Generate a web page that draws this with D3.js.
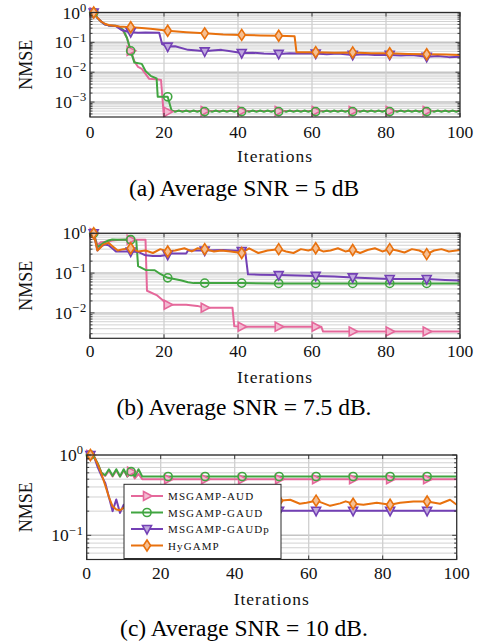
<!DOCTYPE html>
<html>
<head>
<meta charset="utf-8">
<script src="https://cdn.jsdelivr.net/npm/d3@7"></script>
<style>
    html, body { margin: 0; padding: 0; background: #fff; }
    svg { display: block; }
    svg text { font-family: "Liberation Serif", "Times New Roman", Times, "DejaVu Serif", serif; }
</style>
</head>
<body>
<div id="plot"></div>
<script>
// ---- data: [iteration, NMSE] ----
const seriesNames = ['MSGAMP-AUD', 'MSGAMP-GAUD', 'MSGAMP-GAUDp', 'HyGAMP'];
const iterTicks = [0, 20, 40, 60, 80, 100];
const marksAB = [1, 11, 21, 31, 41, 51, 61, 71, 81, 91];
const marksC = [1, 12, 22, 32, 42, 52, 62, 72, 82, 92];
const captions = ['(a) Average SNR = 5 dB', '(b) Average SNR = 7.5 dB.', '(c) Average SNR = 10 dB.'];
const yRanges = [[3.16e-4, 1], [2.3e-3, 1], [0.05, 1]];

// (a) 5 dB
const aAUD = [[1, 1], [2, 0.66], [3, 0.5], [4, 0.4], [5, 0.37], [7, 0.36], [8.5, 0.3], [10, 0.14], [11, 0.052],
    [12, 0.023], [13, 0.015], [14, 0.013], [16, 0.006], [18.5, 0.0057], [19.2, 0.0055], [20, 0.0003], [21, 0.00047],
    [22, 0.0005], [31, 0.0005], [41, 0.0005], [51, 0.0005], [61, 0.0005], [71, 0.0005], [81, 0.0005], [91, 0.0005],
    [100, 0.0005]];
const aGAUDhead = [[1, 1], [2, 0.66], [3, 0.5], [4, 0.4], [5, 0.37], [7, 0.36], [9, 0.26], [10, 0.14], [11, 0.052],
    [12, 0.021], [14, 0.019], [15, 0.011], [16.5, 0.0074], [18, 0.0062], [18.3, 0.0015], [21, 0.0015]];
// iterations 22 .. 100
const aGAUDtail = [
    5.4e-4, 4.7e-4, 5.2e-4, 4.7e-4, 5.2e-4, 4.7e-4, 5.2e-4, 4.7e-4, 5.2e-4, 4.8e-4,
    5.2e-4, 4.7e-4, 5.2e-4, 4.7e-4, 5.2e-4, 4.7e-4, 5.2e-4, 4.7e-4, 5.2e-4, 4.8e-4,
    5.2e-4, 4.7e-4, 5.2e-4, 4.7e-4, 5.2e-4, 4.7e-4, 5.2e-4, 4.7e-4, 5.2e-4, 4.8e-4,
    5.2e-4, 4.7e-4, 5.2e-4, 4.7e-4, 5.2e-4, 4.7e-4, 5.2e-4, 4.7e-4, 5.2e-4, 4.8e-4,
    5.2e-4, 4.7e-4, 5.2e-4, 4.7e-4, 5.2e-4, 4.7e-4, 5.2e-4, 4.7e-4, 5.2e-4, 4.8e-4,
    5.2e-4, 4.7e-4, 5.2e-4, 4.7e-4, 5.2e-4, 4.7e-4, 5.2e-4, 4.7e-4, 5.2e-4, 4.8e-4,
    5.2e-4, 4.7e-4, 5.2e-4, 4.7e-4, 5.2e-4, 4.7e-4, 5.2e-4, 4.7e-4, 5.2e-4, 4.8e-4,
    5.2e-4, 4.7e-4, 5.2e-4, 4.7e-4, 5.2e-4, 4.7e-4, 5.2e-4, 4.7e-4, 5.2e-4];
const aGAUDp = [[1, 1], [2, 0.66], [3, 0.5], [4, 0.4], [5, 0.37], [7, 0.35], [8.5, 0.26], [10, 0.23], [11, 0.22],
    [13, 0.21], [15, 0.215], [18.7, 0.21], [19.5, 0.087], [21, 0.072], [23, 0.074], [26.5, 0.056], [29, 0.053],
    [31, 0.05], [33, 0.053], [35.5, 0.056], [38, 0.05], [41, 0.044], [44, 0.045], [47, 0.042], [51, 0.041],
    [54, 0.043], [57, 0.042], [61, 0.042], [64, 0.04], [67, 0.042], [71, 0.038], [74, 0.04], [77, 0.038],
    [81, 0.038], [84, 0.036], [87, 0.038], [91, 0.033], [94, 0.035], [97, 0.032], [100, 0.033]];
const aHy = [[1, 1], [2, 0.66], [3, 0.5], [4, 0.42], [5, 0.38], [8, 0.34], [11, 0.32], [14, 0.3], [17, 0.28],
    [21, 0.245], [26, 0.22], [31, 0.2], [36, 0.185], [41, 0.178], [46, 0.17], [51, 0.166], [55.3, 0.16],
    [55.8, 0.047], [61, 0.047], [66, 0.045], [71, 0.046], [76, 0.043], [81, 0.043], [86, 0.041], [91, 0.04],
    [96, 0.039], [100, 0.038]];

// (b) 7.5 dB
const bAUD = [[1, 1], [2, 0.5], [3, 0.6], [5, 0.62], [6, 0.66], [8, 0.69], [11, 0.69], [13, 0.69], [15, 0.69],
    [15.4, 0.036], [18, 0.028], [19.6, 0.021], [21, 0.016], [26, 0.016], [29, 0.015], [31, 0.0135], [35, 0.0135],
    [38.5, 0.0135], [39, 0.0046], [41, 0.0045], [51, 0.0045], [61, 0.0045], [62.5, 0.0045], [63, 0.0034],
    [71, 0.0034], [81, 0.0034], [91, 0.0034], [100, 0.0034]];
const bGAUD = [[1, 1], [2, 0.45], [3, 0.52], [4, 0.6], [5, 0.66], [6, 0.7], [8, 0.69], [10, 0.7], [11, 0.69],
    [12.5, 0.67], [13, 0.15], [15, 0.12], [17.5, 0.118], [19, 0.095], [21, 0.076], [24.5, 0.066], [26.5, 0.059],
    [28, 0.056], [31, 0.056], [41, 0.056], [51, 0.055], [61, 0.055], [71, 0.055], [81, 0.055], [91, 0.055],
    [100, 0.055]];
const bGAUDp = [[1, 1], [2, 0.37], [3, 0.47], [4, 0.52], [5, 0.5], [6, 0.42], [7, 0.35], [9, 0.35], [11, 0.35],
    [13, 0.34], [15, 0.28], [17, 0.27], [19, 0.27], [21, 0.29], [22, 0.31], [26, 0.31], [26.5, 0.37], [31, 0.37],
    [36, 0.38], [41, 0.36], [42, 0.32], [42.7, 0.093], [46, 0.091], [51, 0.089], [56, 0.087], [61, 0.085],
    [66, 0.082], [71, 0.078], [76, 0.074], [81, 0.071], [86, 0.071], [91, 0.071], [96, 0.067], [100, 0.065]];
const bHy = [[1, 1], [2, 0.37], [3, 0.45], [3.5, 0.52], [5, 0.575], [6, 0.48], [7.5, 0.37], [9, 0.4], [11, 0.42],
    [13, 0.35], [15, 0.37], [17, 0.32], [19, 0.4], [21, 0.35], [23, 0.37], [25.5, 0.42], [27.5, 0.35], [29, 0.42],
    [31, 0.4], [33.5, 0.35], [35.5, 0.37], [38, 0.35], [41, 0.32], [43, 0.42], [45.5, 0.32], [48, 0.37], [51, 0.4],
    [53, 0.35], [55, 0.32], [57, 0.4], [59, 0.37], [61, 0.42], [63, 0.35], [65, 0.37], [67, 0.42], [69, 0.35],
    [71, 0.38], [73, 0.32], [75, 0.38], [77, 0.42], [79, 0.35], [81, 0.4], [83, 0.37], [85, 0.33], [87, 0.4],
    [89, 0.37], [91, 0.3], [93, 0.37], [95, 0.4], [97, 0.35], [100, 0.38]];

// (c) 10 dB
const cAUD = [[1, 1], [2, 0.95], [3, 0.78], [4, 0.6], [5, 0.55], [6, 0.64], [7, 0.54], [8, 0.64], [9, 0.54],
    [10, 0.64], [11, 0.54], [12, 0.62], [13, 0.51], [14, 0.58], [15, 0.5], [22, 0.5], [32, 0.5], [42, 0.5],
    [52, 0.5], [62, 0.5], [72, 0.5], [82, 0.5], [92, 0.5], [100, 0.5]];
const cGAUD = [[1, 1], [2, 0.95], [3, 0.78], [4, 0.6], [5, 0.56], [6, 0.665], [7, 0.55], [8, 0.665], [9, 0.54],
    [10, 0.665], [11, 0.54], [12, 0.62], [13, 0.54], [14, 0.665], [15, 0.54], [16, 0.54], [22, 0.54], [32, 0.54],
    [42, 0.54], [52, 0.54], [62, 0.54], [72, 0.54], [82, 0.54], [92, 0.54], [100, 0.54]];
const cGAUDp = [[1, 1], [2, 0.95], [3, 0.7], [4, 0.55], [5, 0.45], [6, 0.3], [7, 0.2], [8, 0.28], [9, 0.19],
    [10, 0.24], [11, 0.21], [12, 0.215], [14, 0.205], [22, 0.202], [32, 0.202], [42, 0.202], [52, 0.202],
    [62, 0.202], [72, 0.202], [82, 0.202], [92, 0.202], [100, 0.202]];
const cHy = [[1, 1], [2, 0.95], [3, 0.76], [4, 0.58], [5, 0.42], [6, 0.3], [7, 0.23], [8, 0.21], [9, 0.205],
    [10, 0.22], [11, 0.235], [12, 0.25], [14, 0.27], [16, 0.26], [18, 0.27], [20, 0.26], [22, 0.265], [24, 0.255],
    [26, 0.27], [28, 0.26], [30, 0.265], [32, 0.26], [34, 0.27], [36, 0.255], [38, 0.265], [40, 0.26], [42, 0.27],
    [44, 0.255], [46, 0.265], [48, 0.26], [50, 0.27], [52, 0.27], [55, 0.277], [57.6, 0.247], [59.4, 0.255],
    [62, 0.27], [63.5, 0.255], [65.8, 0.233], [68.5, 0.25], [70, 0.265], [72, 0.247], [74.8, 0.24], [78.4, 0.255],
    [82, 0.24], [84.7, 0.255], [88.3, 0.264], [92, 0.264], [95.5, 0.247], [98.2, 0.277], [100, 0.24]];

// ---- styles / layout ----
const seriesColors = ['#e5689b', '#41a541', '#7340b5', '#e8710e'];
const seriesMarks = ['triangleRight', 'circle', 'triangleDown', 'diamond'];

const W = 479, H = 643;
const layout = [
    {left: 90, right: 460, top: 12.5, bottom: 117, tickY: 137.5, titleY: 161.7, capY: 195.5},
    {left: 90, right: 460, top: 233.3, bottom: 338.3, tickY: 357, titleY: 383, capY: 415},
    {left: 86.7, right: 456.7, top: 455, bottom: 559.5, tickY: 579, titleY: 605, capY: 636}
];

const svg = d3.select('#plot')
    .append('svg')
    .attr('width', W)
    .attr('height', H);

function markPath(type) {
    switch (type) {
        case 'triangleRight': return 'M-3.5,-4.5L5,0L-3.5,4.5Z';
        case 'triangleDown': return 'M-4.5,-3.5L4.5,-3.5L0,5Z';
        case 'diamond': return 'M0,-5.5L3.6,0L0,5.5L-3.6,0Z';
        default: return d3.symbol(d3.symbolCircle, 52)();
    }
}

function drawMark(g, type, color, cx, cy) {
    g.append('path')
        .attr('d', markPath(type))
        .attr('transform', `translate(${cx},${cy})`)
        .attr('fill', type === 'circle' ? 'none' : d3.interpolateRgb(color, '#fff')(0.55))
        .attr('stroke', color)
        .attr('stroke-width', 1.6);
}

function drawPanel(idx, series, marks, legend) {
    const L = layout[idx];
    const x = d3.scaleLinear().domain([0, 100]).range([L.left, L.right]);
    const y = d3.scaleLog().domain(yRanges[idx]).range([L.bottom, L.top]);
    const g = svg.append('g');

    const yTicks = y.ticks();
    const isMajor = v => Math.abs(Math.log10(v) - Math.round(Math.log10(v))) < 1e-9;
    const major = yTicks.filter(isMajor);
    const minor = yTicks.filter(v => !isMajor(v));

    // grid
    g.append('g').selectAll('line').data(minor).join('line')
        .attr('x1', L.left).attr('x2', L.right)
        .attr('y1', d => y(d)).attr('y2', d => y(d))
        .attr('stroke', '#d2d2d2').attr('stroke-width', 1);
    g.append('g').selectAll('line').data(major).join('line')
        .attr('x1', L.left).attr('x2', L.right)
        .attr('y1', d => y(d)).attr('y2', d => y(d))
        .attr('stroke', '#c4c4c4').attr('stroke-width', 1.5);
    g.append('g').selectAll('line').data(iterTicks).join('line')
        .attr('x1', d => x(d)).attr('x2', d => x(d))
        .attr('y1', L.top).attr('y2', L.bottom)
        .attr('stroke', '#cfcfcf').attr('stroke-width', 1.3);

    // curves
    const clipId = 'clip' + idx;
    svg.append('clipPath').attr('id', clipId)
        .append('rect')
        .attr('x', L.left).attr('y', L.top)
        .attr('width', L.right - L.left).attr('height', L.bottom - L.top);

    const line = d3.line().x(d => x(d[0])).y(d => y(d[1]));
    series.forEach((s, i) => {
        g.append('path')
            .attr('d', line(s))
            .attr('clip-path', `url(#${clipId})`)
            .attr('fill', 'none')
            .attr('stroke', seriesColors[i])
            .attr('stroke-width', 2)
            .attr('stroke-linejoin', 'round');
    });
    series.forEach((s, i) => {
        marks.forEach(m => {
            const pt = s.find(d => d[0] === m);
            if (pt) drawMark(g, seriesMarks[i], seriesColors[i], x(pt[0]), y(pt[1]));
        });
    });

    // frame and ticks
    g.append('rect')
        .attr('x', L.left).attr('y', L.top)
        .attr('width', L.right - L.left).attr('height', L.bottom - L.top)
        .attr('fill', 'none').attr('stroke', '#2b2b2b').attr('stroke-width', 1.2);

    const ticks = g.append('g').attr('stroke', '#2b2b2b').attr('stroke-width', 0.9);
    iterTicks.forEach(t => {
        ticks.append('line').attr('x1', x(t)).attr('x2', x(t)).attr('y1', L.bottom).attr('y2', L.bottom - 4);
        ticks.append('line').attr('x1', x(t)).attr('x2', x(t)).attr('y1', L.top).attr('y2', L.top + 4);
    });
    yTicks.forEach(v => {
        const len = isMajor(v) ? 4.5 : 2.5;
        ticks.append('line').attr('x1', L.left).attr('x2', L.left + len).attr('y1', y(v)).attr('y2', y(v));
        ticks.append('line').attr('x1', L.right).attr('x2', L.right - len).attr('y1', y(v)).attr('y2', y(v));
    });

    // tick labels
    g.append('g').selectAll('text').data(iterTicks).join('text')
        .attr('x', d => x(d))
        .attr('y', L.tickY)
        .attr('text-anchor', 'middle')
        .attr('font-size', '17.5px')
        .attr('fill', '#111')
        .text(d => d);

    major.forEach(v => {
        const e = Math.round(Math.log10(v));
        const t = g.append('text')
            .attr('x', L.left - 3)
            .attr('y', y(v) + 6)
            .attr('text-anchor', 'end')
            .attr('fill', '#111')
            .attr('font-size', '17.5px');
        t.append('tspan').text('10');
        t.append('tspan')
            .attr('dy', -6.8)
            .attr('font-size', '12.5px')
            .attr('letter-spacing', '0.8px')
            .text(e < 0 ? '\u2212' + (-e) : String(e));
    });

    // axis titles and caption
    g.append('text')
        .attr('x', (L.left + L.right) / 2)
        .attr('y', L.titleY)
        .attr('text-anchor', 'middle')
        .attr('font-size', '17.5px')
        .attr('letter-spacing', '1px')
        .attr('fill', '#111')
        .text('Iterations');

    g.append('text')
        .attr('transform', `translate(32,${(L.top + L.bottom) / 2}) rotate(-90)`)
        .attr('text-anchor', 'middle')
        .attr('font-size', '18px')
        .attr('fill', '#111')
        .text('NMSE');

    g.append('text')
        .attr('x', 244)
        .attr('y', L.capY)
        .attr('text-anchor', 'middle')
        .attr('font-size', '23.5px')
        .attr('fill', '#000')
        .text(captions[idx]);

    if (legend) {
        const lg = g.append('g');
        lg.append('rect')
            .attr('x', 124).attr('y', 484.3)
            .attr('width', 157).attr('height', 74.2)
            .attr('fill', '#fff').attr('stroke', '#2b2b2b').attr('stroke-width', 1);
        const rowY = d3.scalePoint().domain(seriesNames).range([496, 545.5]);
        seriesNames.forEach((name, i) => {
            const ry = rowY(name);
            lg.append('line')
                .attr('x1', 131).attr('x2', 163).attr('y1', ry).attr('y2', ry)
                .attr('stroke', seriesColors[i]).attr('stroke-width', 2);
            drawMark(lg, seriesMarks[i], seriesColors[i], 147, ry);
            lg.append('text')
                .attr('x', 168)
                .attr('y', ry + 4)
                .attr('font-size', '11px')
                .attr('letter-spacing', '1.1px')
                .attr('fill', '#111')
                .text(name);
        });
    }
}

const aGAUD = aGAUDhead.concat(aGAUDtail.map((v, i) => [22 + i, v]));

drawPanel(0, [aAUD, aGAUD, aGAUDp, aHy], marksAB, false);
drawPanel(1, [bAUD, bGAUD, bGAUDp, bHy], marksAB, false);
drawPanel(2, [cAUD, cGAUD, cGAUDp, cHy], marksC, true);
</script>
</body>
</html>
